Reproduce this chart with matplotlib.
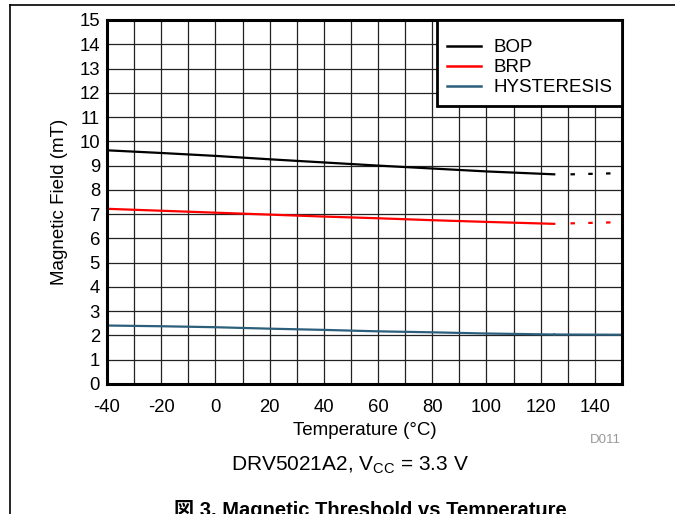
import matplotlib
matplotlib.use("Agg")
import matplotlib.pyplot as plt
from matplotlib.lines import Line2D

plt.rcParams['font.family'] = ['Liberation Sans', 'Noto Sans CJK JP', 'DejaVu Sans']
plt.rcParams['axes.unicode_minus'] = False

temp = [-40, -20, 0, 20, 40, 60, 80, 100, 125]
bop = [9.63, 9.52, 9.40, 9.26, 9.13, 9.00, 8.88, 8.76, 8.64]
brp = [7.22, 7.14, 7.06, 6.98, 6.90, 6.83, 6.75, 6.68, 6.60]
hyst = [2.41, 2.38, 2.34, 2.28, 2.23, 2.17, 2.13, 2.08, 2.04]

temp_ext = [131, 150]
bop_ext = [8.64, 8.69]
brp_ext = [6.62, 6.67]
hyst_ext = [2.03, 2.03]

c_bop = 'black'
c_brp = '#ff0000'
c_hys = '#2c5f7c'

fig = plt.figure(figsize=(6.75, 5.14), dpi=100)
ax = fig.add_axes([107/675, 1-384/514, 515/675, 364/514])

ax.plot(temp, bop, color=c_bop, lw=1.6)
ax.plot(temp, brp, color=c_brp, lw=1.6)
ax.plot(temp, hyst, color=c_hys, lw=1.6)
ax.plot(temp_ext, bop_ext, color=c_bop, lw=1.6, ls=(0, (2, 6)))
ax.plot(temp_ext, brp_ext, color=c_brp, lw=1.6, ls=(0, (2, 6)))
ax.plot([125, 150], [hyst[-1], hyst_ext[-1]], color=c_hys, lw=1.6)

ax.set_xlim(-40, 150)
ax.set_ylim(0, 15)
ax.set_xticks(range(-40, 141, 20))
ax.set_xticks(range(-30, 151, 20), minor=True)
ax.set_yticks(range(0, 16))
ax.grid(True, which='both', color='#222222', lw=0.9)
ax.set_axisbelow(True)
ax.tick_params(which='both', length=0, labelsize=13.3)
ax.tick_params(axis='x', pad=11)
ax.tick_params(axis='y', pad=5)
for s in ax.spines.values():
    s.set_linewidth(2.2)

ax.set_xlabel('Temperature (°C)', fontsize=13.5, labelpad=4)
ax.set_ylabel('Magnetic Field (mT)', fontsize=13.5, labelpad=8)

# blank small title only adds the extra top padding seen in the original legend
handles = [Line2D([], [], color=c, lw=1.8) for c in (c_bop, c_brp, c_hys)]
leg = ax.legend(handles, ['BOP', 'BRP', 'HYSTERESIS'], loc='upper right',
                bbox_to_anchor=(1.0, 1.0), fontsize=13.5, fancybox=False,
                framealpha=1, edgecolor='black', borderaxespad=0,
                handlelength=1.8, handletextpad=0.7, labelspacing=0.15,
                borderpad=0.5, title=' ', title_fontsize=5)
leg.get_frame().set_linewidth(2)

fig.text(605/675, 1-440/514, 'D011', color='#999999', fontsize=9.5, ha='center', va='center')
fig.text(350/675, 1-465/514, 'DRV5021A2, V$_{\\mathregular{CC}}$ = 3.3 V', fontsize=15,
         ha='center', va='center')
fig.text(370/675, 1-500/514, '図 3. Magnetic Threshold vs Temperature', fontsize=14.5,
         fontweight='bold', ha='center', va='top')

# page frame lines
fig.add_artist(Line2D([10/675, 10/675], [0, 1-5/514], color='black', lw=1.2))
fig.add_artist(Line2D([10/675, 1], [1-5/514, 1-5/514], color='black', lw=1.2))

fig.savefig('out.png', dpi=100)
